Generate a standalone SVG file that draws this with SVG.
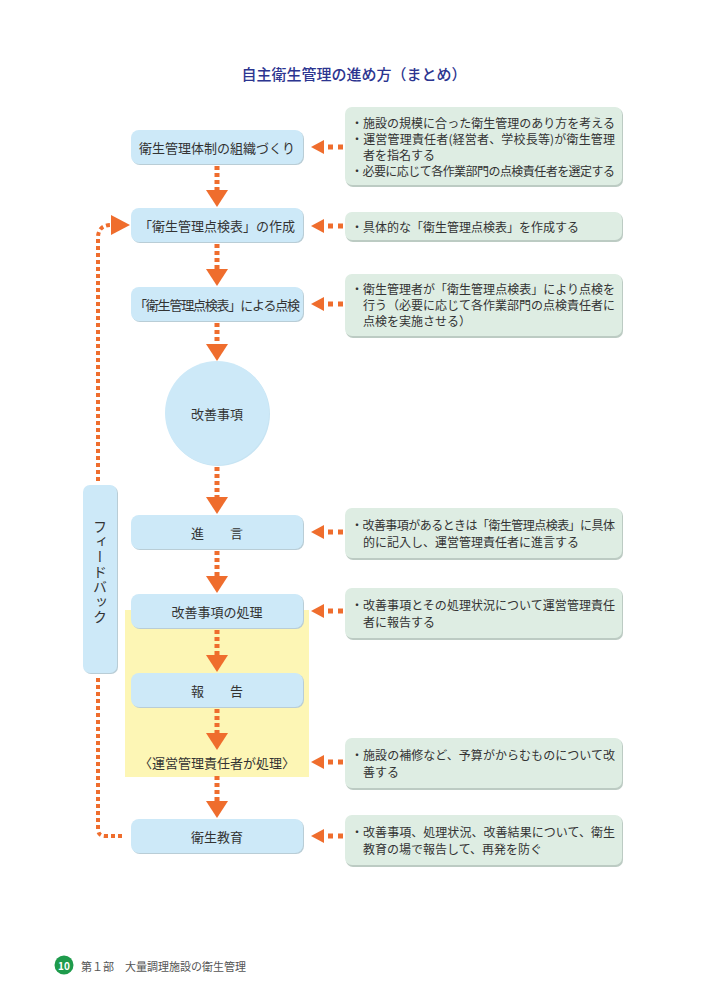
<svg xmlns="http://www.w3.org/2000/svg" width="707" height="1000" viewBox="0 0 707 1000">
<style>
text{font-family:"Noto Sans CJK JP","Noto Sans",sans-serif;dominant-baseline:central;fill:#333333}
.title{font-size:15px;fill:#2c3590;text-anchor:middle;font-weight:500}
.lb{fill:#cde9f8}
.sh{fill:#b9cdd6}
.rb{fill:#deede3}
.rsh{fill:#bccbc3}
.lt{font-size:13px;text-anchor:middle}
.rt{font-size:12px}
.vline{fill:none;stroke:#ef6d2d;stroke-width:5;stroke-dasharray:4 3}
.fline{fill:none;stroke:#ef6d2d;stroke-width:4;stroke-dasharray:4 3}
.ah{fill:#ef6d2d}
</style>
<rect width="707" height="1000" fill="#ffffff"/>
<text class="title" x="354" y="73">自主衛生管理の進め方（まとめ）</text>

<rect x="125" y="610" width="184" height="167" fill="#fdf6b5"/>

<g id="connectors">
  <path class="vline" d="M217 166V190M217 244V269M217 323V344M217 467V497M217 551V576M217 630V655M217 709V733M217 776V801"/>
  <polygon class="ah" points="206,190 228,190 217,207"/>
  <polygon class="ah" points="206,269 228,269 217,286"/>
  <polygon class="ah" points="206,344 228,344 217,361"/>
  <polygon class="ah" points="206,497 228,497 217,514"/>
  <polygon class="ah" points="206,576 228,576 217,593"/>
  <polygon class="ah" points="206,655 228,655 217,672"/>
  <polygon class="ah" points="206,733 228,733 217,750"/>
  <polygon class="ah" points="206,801 228,801 217,818"/>
  <g id="harrows">
    <g transform="translate(0,147)"><polygon class="ah" points="311,0 324,-7 324,7"/><rect class="ah" x="328" y="-2.5" width="5" height="5"/><rect class="ah" x="338" y="-2.5" width="5" height="5"/></g>
    <g transform="translate(0,226)"><polygon class="ah" points="311,0 324,-7 324,7"/><rect class="ah" x="328" y="-2.5" width="5" height="5"/><rect class="ah" x="338" y="-2.5" width="5" height="5"/></g>
    <g transform="translate(0,304)"><polygon class="ah" points="311,0 324,-7 324,7"/><rect class="ah" x="328" y="-2.5" width="5" height="5"/><rect class="ah" x="338" y="-2.5" width="5" height="5"/></g>
    <g transform="translate(0,532)"><polygon class="ah" points="311,0 324,-7 324,7"/><rect class="ah" x="328" y="-2.5" width="5" height="5"/><rect class="ah" x="338" y="-2.5" width="5" height="5"/></g>
    <g transform="translate(0,611)"><polygon class="ah" points="311,0 324,-7 324,7"/><rect class="ah" x="328" y="-2.5" width="5" height="5"/><rect class="ah" x="338" y="-2.5" width="5" height="5"/></g>
    <g transform="translate(0,762)"><polygon class="ah" points="311,0 324,-7 324,7"/><rect class="ah" x="328" y="-2.5" width="5" height="5"/><rect class="ah" x="338" y="-2.5" width="5" height="5"/></g>
    <g transform="translate(0,836)"><polygon class="ah" points="311,0 324,-7 324,7"/><rect class="ah" x="328" y="-2.5" width="5" height="5"/><rect class="ah" x="338" y="-2.5" width="5" height="5"/></g>
  </g>
  <path class="fline" d="M98 481V238Q98 225 111 225"/>
  <polygon class="ah" points="111,215 130,225 111,235"/>
  <path class="fline" d="M122 836H105Q98 836 98 829V677"/>
</g>

<g id="n1"><rect class="sh" x="132" y="131" width="172" height="34" rx="8"/><rect class="lb" x="131" y="130" width="172" height="34" rx="8"/><text class="lt" x="217" y="147">衛生管理体制の組織づくり</text></g>
<g id="n2"><rect class="sh" x="132" y="209" width="172" height="34" rx="8"/><rect class="lb" x="131" y="208" width="172" height="34" rx="8"/><text class="lt" x="217" y="225">「衛生管理点検表」の作成</text></g>
<g id="n3"><rect class="sh" x="132" y="288" width="172" height="34" rx="8"/><rect class="lb" x="131" y="287" width="172" height="34" rx="8"/><text class="lt" x="217" y="304" textLength="166">「衛生管理点検表」による点検</text></g>
<g id="n4"><circle cx="218" cy="414" r="52" fill="#c7e4f3"/><circle cx="217" cy="413" r="52" class="lb"/><text class="lt" x="217" y="413">改善事項</text></g>
<g id="n5"><rect class="sh" x="132" y="516" width="172" height="34" rx="8"/><rect class="lb" x="131" y="515" width="172" height="34" rx="8"/><text class="lt" x="217" y="532">進　　言</text></g>
<g id="n6"><rect class="sh" x="132" y="595" width="172" height="34" rx="8"/><rect class="lb" x="131" y="594" width="172" height="34" rx="8"/><text class="lt" x="217" y="611">改善事項の処理</text></g>
<g id="n7"><rect class="sh" x="132" y="674" width="172" height="34" rx="8"/><rect class="lb" x="131" y="673" width="172" height="34" rx="8"/><text class="lt" x="217" y="690">報　　告</text></g>
<g id="n8"><text class="lt" x="217" y="762">〈運営管理責任者が処理〉</text></g>
<g id="n9"><rect class="sh" x="132" y="820" width="172" height="34" rx="8"/><rect class="lb" x="131" y="819" width="172" height="34" rx="8"/><text class="lt" x="217" y="836">衛生教育</text></g>

<g id="feedback"><rect class="sh" x="84" y="486" width="34" height="188" rx="7"/><rect class="lb" x="83" y="485" width="34" height="188" rx="7"/><text x="100" y="572" style="font-size:14px;writing-mode:vertical-rl;text-anchor:middle;letter-spacing:1px">フィードバック</text></g>

<g id="r1"><rect class="rsh" x="346" y="108" width="277" height="79" rx="7"/><rect class="rb" x="345" y="107" width="277" height="78" rx="7"/>
<text class="rt" x="351" y="122" textLength="264">・施設の規模に合った衛生管理のあり方を考える</text>
<text class="rt" x="351" y="138" textLength="264">・運営管理責任者(経営者、学校長等)が衛生管理</text>
<text class="rt" x="363" y="154">者を指名する</text>
<text class="rt" x="351" y="170" textLength="264">・必要に応じて各作業部門の点検責任者を選定する</text></g>
<g id="r2"><rect class="rsh" x="346" y="213" width="277" height="29" rx="7"/><rect class="rb" x="345" y="212" width="277" height="28" rx="7"/>
<text class="rt" x="351" y="226">・具体的な「衛生管理点検表」を作成する</text></g>
<g id="r3"><rect class="rsh" x="346" y="275" width="277" height="63" rx="7"/><rect class="rb" x="345" y="274" width="277" height="62" rx="7"/>
<text class="rt" x="351" y="288" textLength="264">・衛生管理者が「衛生管理点検表」により点検を</text>
<text class="rt" x="363" y="304" textLength="252">行う（必要に応じて各作業部門の点検責任者に</text>
<text class="rt" x="363" y="320">点検を実施させる）</text></g>
<g id="r4"><rect class="rsh" x="346" y="509" width="277" height="51" rx="7"/><rect class="rb" x="345" y="508" width="277" height="50" rx="7"/>
<text class="rt" x="351" y="524" textLength="264">・改善事項があるときは「衛生管理点検表」に具体</text>
<text class="rt" x="363" y="541">的に記入し、運営管理責任者に進言する</text></g>
<g id="r5"><rect class="rsh" x="346" y="589" width="277" height="51" rx="7"/><rect class="rb" x="345" y="588" width="277" height="50" rx="7"/>
<text class="rt" x="351" y="604" textLength="264">・改善事項とその処理状況について運営管理責任</text>
<text class="rt" x="363" y="621">者に報告する</text></g>
<g id="r6"><rect class="rsh" x="346" y="739" width="277" height="51" rx="7"/><rect class="rb" x="345" y="738" width="277" height="50" rx="7"/>
<text class="rt" x="351" y="754" textLength="264">・施設の補修など、予算がからむものについて改</text>
<text class="rt" x="363" y="771">善する</text></g>
<g id="r7"><rect class="rsh" x="346" y="816" width="277" height="51" rx="7"/><rect class="rb" x="345" y="815" width="277" height="50" rx="7"/>
<text class="rt" x="351" y="831" textLength="264">・改善事項、処理状況、改善結果について、衛生</text>
<text class="rt" x="363" y="848">教育の場で報告して、再発を防ぐ</text></g>

<g id="footer"><circle cx="64" cy="965" r="9.5" fill="#1e9b4c"/><text x="64" y="965" style="font-size:10px;fill:#fff;text-anchor:middle;font-weight:bold">10</text>
<text x="81" y="966" style="font-size:11px;fill:#555">第１部　大量調理施設の衛生管理</text></g>
</svg>
